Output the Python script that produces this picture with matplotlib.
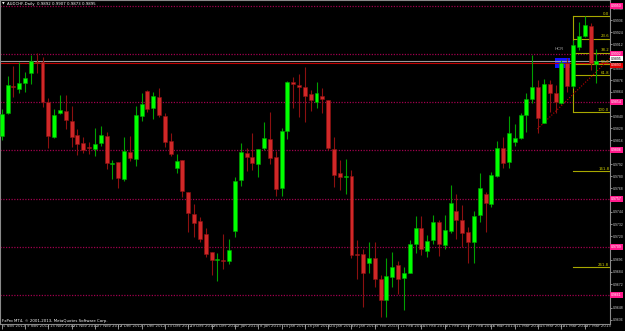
import numpy as np
import matplotlib.pyplot as plt
from matplotlib.patches import Rectangle
from matplotlib.transforms import ScaledTranslation

# AUDCHF daily bars, one per trading day starting 5 Nov 2012
opens = [0.9820, 0.9843, 0.9870, 0.9867, 0.9873, 0.9883, 0.9894, 0.9894, 0.9854, 0.9819,
         0.9843, 0.9845, 0.9835, 0.9821, 0.9813, 0.9809, 0.9807, 0.9813, 0.9820, 0.9792,
         0.9794, 0.9777, 0.9804, 0.9797, 0.9840, 0.9865, 0.9848, 0.9859, 0.9840, 0.9815,
         0.9788, 0.9796, 0.9764, 0.9742, 0.9735, 0.9722, 0.9704, 0.9696, 0.9696, 0.9695,
         0.9725, 0.9776, 0.9803, 0.9799, 0.9792, 0.9808, 0.9817, 0.9799, 0.9768, 0.9825,
         0.9874, 0.9871, 0.9869, 0.9862, 0.9854, 0.9860, 0.9856, 0.9807, 0.9783, 0.9779,
         0.9780, 0.9702, 0.9702, 0.9693, 0.9698, 0.9677, 0.9656, 0.9679, 0.9691, 0.9678,
         0.9683, 0.9712, 0.9728, 0.9705, 0.9716, 0.9734, 0.9711, 0.9725, 0.9745, 0.9736,
         0.9724, 0.9714, 0.9741, 0.9762, 0.9752, 0.9780, 0.9808, 0.9794, 0.9814, 0.9818,
         0.9841, 0.9857, 0.9869, 0.9833, 0.9872, 0.9863, 0.9853, 0.9893, 0.9870, 0.9909,
         0.9920, 0.9930, 0.9892]
highs = [0.9847, 0.9880, 0.9890, 0.9894, 0.9884, 0.9901, 0.9903, 0.9899, 0.9858, 0.9847,
         0.9861, 0.9861, 0.9850, 0.9827, 0.9819, 0.9814, 0.9828, 0.9830, 0.9824, 0.9796,
         0.9794, 0.9819, 0.9820, 0.9850, 0.9863, 0.9866, 0.9864, 0.9868, 0.9843, 0.9823,
         0.9802, 0.9796, 0.9764, 0.9752, 0.9739, 0.9728, 0.9704, 0.9703, 0.9722, 0.9717,
         0.9779, 0.9813, 0.9808, 0.9823, 0.9807, 0.9834, 0.9844, 0.9805, 0.9828, 0.9875,
         0.9879, 0.9882, 0.9889, 0.9866, 0.9874, 0.9868, 0.9856, 0.9819, 0.9796, 0.9797,
         0.9786, 0.9716, 0.9707, 0.9714, 0.9714, 0.9681, 0.9698, 0.9704, 0.9695, 0.9689,
         0.9716, 0.9740, 0.9740, 0.9721, 0.9741, 0.9736, 0.9741, 0.9771, 0.9762, 0.9751,
         0.9729, 0.9745, 0.9783, 0.9764, 0.9784, 0.9815, 0.9819, 0.9840, 0.9832, 0.9843,
         0.9863, 0.9901, 0.9876, 0.9877, 0.9876, 0.9871, 0.9896, 0.9898, 0.9916, 0.9934,
         0.9940, 0.9933, 0.9907]
lows = [0.9816, 0.9842, 0.9859, 0.9863, 0.9864, 0.9872, 0.9883, 0.9849, 0.9808, 0.9818,
        0.9842, 0.9827, 0.9809, 0.9801, 0.9803, 0.9802, 0.9800, 0.9810, 0.9787, 0.9777,
        0.9768, 0.9775, 0.9795, 0.9790, 0.9835, 0.9844, 0.9837, 0.9839, 0.9809, 0.9800,
        0.9783, 0.9759, 0.9724, 0.9719, 0.9714, 0.9699, 0.9681, 0.9675, 0.9687, 0.9692,
        0.9719, 0.9770, 0.9785, 0.9786, 0.9779, 0.9806, 0.9792, 0.9760, 0.9760, 0.9817,
        0.9848, 0.9839, 0.9834, 0.9845, 0.9848, 0.9843, 0.9806, 0.9769, 0.9766, 0.9762,
        0.9698, 0.9677, 0.9649, 0.9683, 0.9669, 0.9639, 0.9639, 0.9669, 0.9662, 0.9646,
        0.9683, 0.9703, 0.9701, 0.9699, 0.9712, 0.9700, 0.9707, 0.9723, 0.9717, 0.9709,
        0.9693, 0.9693, 0.9734, 0.9724, 0.9749, 0.9779, 0.9788, 0.9788, 0.9810, 0.9817,
        0.9824, 0.9853, 0.9823, 0.9833, 0.9844, 0.9843, 0.9852, 0.9864, 0.9868, 0.9906,
        0.9919, 0.9886, 0.9873]
closes = [0.9842, 0.9871, 0.9869, 0.9873, 0.9878, 0.9895, 0.9893, 0.9854, 0.9820, 0.9841,
          0.9846, 0.9836, 0.9819, 0.9812, 0.9806, 0.9808, 0.9812, 0.9821, 0.9793, 0.9793,
          0.9778, 0.9805, 0.9798, 0.9841, 0.9852, 0.9847, 0.9860, 0.9841, 0.9814, 0.9802,
          0.9795, 0.9765, 0.9743, 0.9733, 0.9717, 0.9702, 0.9696, 0.9697, 0.9695, 0.9706,
          0.9775, 0.9804, 0.9799, 0.9793, 0.9807, 0.9818, 0.9798, 0.9767, 0.9825, 0.9874,
          0.9872, 0.9869, 0.9860, 0.9856, 0.9863, 0.9857, 0.9808, 0.9781, 0.9779, 0.9780,
          0.9701, 0.9701, 0.9683, 0.9698, 0.9677, 0.9656, 0.9680, 0.9689, 0.9677, 0.9683,
          0.9712, 0.9728, 0.9707, 0.9715, 0.9734, 0.9712, 0.9726, 0.9753, 0.9736, 0.9723,
          0.9714, 0.9740, 0.9768, 0.9753, 0.9781, 0.9808, 0.9793, 0.9823, 0.9818, 0.9841,
          0.9857, 0.9869, 0.9838, 0.9872, 0.9863, 0.9854, 0.9893, 0.9870, 0.9911, 0.9920,
          0.9931, 0.9893, 0.9895]

date_labels = ["5 Nov 2012", "9 Nov 2012", "15 Nov 2012", "21 Nov 2012", "27 Nov 2012",
               "3 Dec 2012", "7 Dec 2012", "13 Dec 2012", "19 Dec 2012", "26 Dec 2012",
               "2 Jan 2013", "8 Jan 2013", "14 Jan 2013", "18 Jan 2013", "24 Jan 2013",
               "30 Jan 2013", "5 Feb 2013", "11 Feb 2013", "15 Feb 2013", "21 Feb 2013",
               "27 Feb 2013", "5 Mar 2013", "11 Mar 2013", "15 Mar 2013", "21 Mar 2013",
               "27 Mar 2013"]
date_label_bars = [0, 4, 8, 12, 16, 20, 24, 28, 32, 36, 40, 44, 48, 52, 56, 60, 64, 68,
                   72, 76, 80, 84, 88, 92, 96, 100]

# scale labels that are not hidden under the level boxes
price_ticks = [0.9948, 0.9936, 0.9924, 0.9912, 0.9888, 0.9876, 0.9864,
               0.9840, 0.9828, 0.9816, 0.9792, 0.9780, 0.9768, 0.9744,
               0.9732, 0.9720, 0.9696, 0.9684, 0.9672, 0.9648, 0.9636]

# horizontal objects on the chart
round_levels = [0.9950, 0.9902, 0.9854, 0.9806, 0.9757, 0.9709, 0.9661]
bid_level = 0.9895
red_level = 0.9893

# fibonacci retracement
fib_ratios = [0.0, 23.6, 38.2, 50.0, 61.8, 100.0, 161.8, 261.8]
fib_high = 0.9940
fib_low = 0.9844
fib_start = 98

# red dotted trend line (bar, price)
trend_x = [91.9, 104.4]
trend_y = [0.9827, 0.9898]

# blue zone box
box_x = [94.9, 97.5]
box_y = [0.9888, 0.9898]

o = np.array(opens)
h = np.array(highs)
l = np.array(lows)
c = np.array(closes)
x = np.arange(len(o))
up = c >= o

W, H = 625, 331
XMAX = 104.34
fig = plt.figure(figsize=(W / 100, H / 100), dpi=100, facecolor='black')
ax = fig.add_axes([0, 7 / H, 610 / W, 324 / H], facecolor='black')
ax.set_xlim(-0.29, XMAX)
ax.set_ylim(0.9632, 0.9956)

fs = 2.8
afs = 2.5
axis_font = 'Liberation Sans'
txt_col = '#c8c8c8'
ytr = ax.get_yaxis_transform()

# round number levels
for lv in round_levels:
    ax.axhline(lv, color='#a0004e', lw=0.9, ls=(0, (1, 1.2)), zorder=1)
    ax.text(1.002, lv, f'{lv:.4f}', transform=ytr, clip_on=False, family=axis_font,
            fontsize=afs, color='white', ha='left', va='center', zorder=10,
            bbox=dict(boxstyle='square,pad=0.3', fc='#ff1a8c', ec='none'))

# zone box
ax.add_patch(Rectangle((box_x[0], box_y[0]), box_x[1] - box_x[0], box_y[1] - box_y[0],
                       facecolor='#1414ff', edgecolor='none', zorder=1))
ax.text(box_x[0], 0.9907, 'HCR', fontsize=3.2, color='#9a9a9a', va='center', ha='left')

# bid and red line
ax.axhline(bid_level, color='#9a9a9a', lw=0.8, zorder=1.5)
ax.axhline(red_level, color='#c00000', lw=0.8, zorder=1.5)
ax.text(1.002, bid_level + 0.00025, f'{bid_level:.4f}', transform=ytr, family=axis_font,
        clip_on=False, fontsize=afs, color='black', ha='left', va='center', zorder=11,
        bbox=dict(boxstyle='square,pad=0.25', fc='white', ec='none'))
ax.text(1.002, red_level - 0.00025, f'{red_level:.4f}', transform=ytr, family=axis_font,
        clip_on=False, fontsize=afs, color='white', ha='left', va='center', zorder=11,
        bbox=dict(boxstyle='square,pad=0.25', fc='#e00000', ec='none'))

# fibonacci
fib_col = '#a8a800'
ax.plot([fib_start, fib_start], [fib_low, fib_high], color=fib_col, lw=0.8, zorder=1)
for r in fib_ratios:
    lv = fib_high - r / 100 * (fib_high - fib_low)
    ax.plot([fib_start, XMAX], [lv, lv], color=fib_col, lw=0.8, zorder=1)
    ax.text(104.2, lv + 0.00004, f'{r:.1f}', fontsize=fs, color='#d0d000',
            ha='right', va='bottom', zorder=5)

# trend line
ax.plot(trend_x, trend_y, color='#c00000', lw=0.8, ls=(0, (1, 1.5)), zorder=1.5)

# candles
wick_col = np.where(up, '#00a000', '#8c1010')
body_col = np.where(up, '#00ff00', '#d02828')
ax.vlines(x, l, h, colors=wick_col, lw=0.8, zorder=2)
bottom = np.minimum(o, c)
height = np.maximum(np.abs(c - o), 0.00012)
ax.bar(x, height, bottom=bottom, width=0.68, color=body_col, edgecolor=wick_col,
       linewidth=0.4, zorder=3)

# axes styling
for s in ax.spines.values():
    s.set_color('#8a8a8a')
    s.set_linewidth(0.8)

ax.yaxis.tick_right()
ax.set_yticks(price_ticks)
ax.set_yticklabels([f'{p:.4f}' for p in price_ticks], family=axis_font)
ax.tick_params(axis='y', length=1.5, width=0.5, pad=0.4, labelsize=afs,
               colors=txt_col, direction='out')

ax.set_xticks(date_label_bars)
ax.set_xticklabels(date_labels, ha='left')
ax.tick_params(axis='x', length=3.5, width=0.5, pad=-3.3, labelsize=fs,
               colors=txt_col, direction='out')
shift = ScaledTranslation(1.2 / 72, 0, fig.dpi_scale_trans)
for lab in ax.get_xticklabels():
    lab.set_transform(lab.get_transform() + shift)

# header and footer texts
fig.text(2 / W, 1 - 4 / H, '\u25bc', fontsize=2.5, color='white', va='center')
fig.text(7 / W, 1 - 4 / H,
         f'AUDCHF,Daily  {o[-1]:.4f} {h[-1]:.4f} {l[-1]:.4f} {c[-1]:.4f}',
         fontsize=fs, color='white', va='center')
fig.text(2 / W, 1 - 321 / H, 'FxPro MT4, \u00a9 2001-2013, MetaQuotes Software Corp.',
         fontsize=fs, color='white', va='center')

fig.savefig('out.png', dpi=100, facecolor='black')
